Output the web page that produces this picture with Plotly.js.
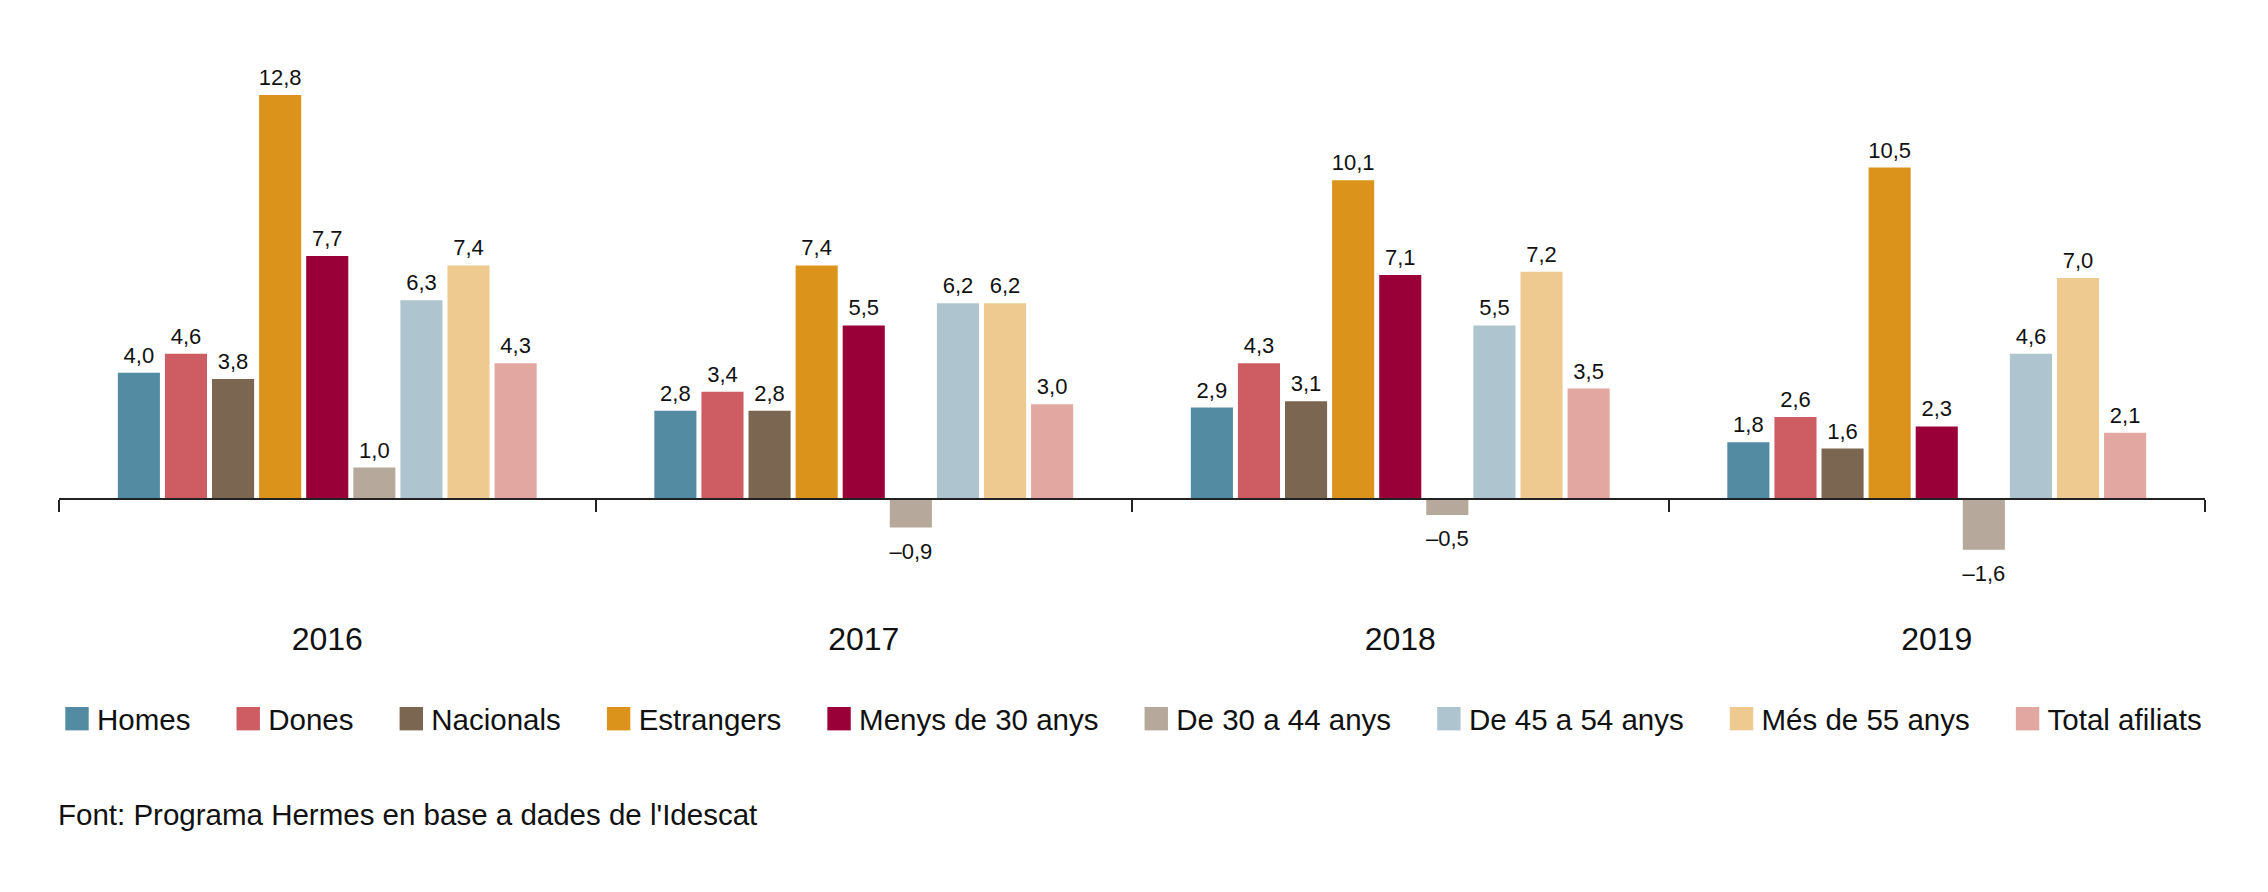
<!DOCTYPE html>
<html>
<head>
<meta charset="utf-8">
<script src="https://cdn.plot.ly/plotly-3.0.1.min.js"></script>
<style>
  html, body { margin: 0; padding: 0; background: #fff; }
  #chart { width: 2268px; height: 892px; }
</style>
</head>
<body>
<div id="chart"></div>
<script>
const years = ['2016', '2017', '2018', '2019'];

const homes = [4.0, 2.8, 2.9, 1.8];
const dones = [4.6, 3.4, 4.3, 2.6];
const nacionals = [3.8, 2.8, 3.1, 1.6];
const estrangers = [12.8, 7.4, 10.1, 10.5];
const menys30 = [7.7, 5.5, 7.1, 2.3];
const de30a44 = [1.0, -0.9, -0.5, -1.6];
const de45a54 = [6.3, 6.2, 5.5, 4.6];
const mes55 = [7.4, 6.2, 7.2, 7.0];
const totalAfiliats = [4.3, 3.0, 3.5, 2.1];

const seriesNames = ['Homes', 'Dones', 'Nacionals', 'Estrangers', 'Menys de 30 anys',
  'De 30 a 44 anys', 'De 45 a 54 anys', 'Més de 55 anys', 'Total afiliats'];
const seriesValues = [homes, dones, nacionals, estrangers, menys30,
  de30a44, de45a54, mes55, totalAfiliats];
const colors = ['#538ba2', '#ce5d63', '#7b6651', '#db931c', '#9a0037',
  '#b6a99c', '#aec4ce', '#efca90', '#e2a7a0'];

const FONT = '"Liberation Sans", Arial, Helvetica, sans-serif';
const W = 2268, H = 892;
const yMin = -5, yMax = 14;
const zeroY = 499;          // px of the baseline
const pxPerUnit = 31.55;
const plotTop = zeroY - yMax * pxPerUnit;
const plotBottom = zeroY - yMin * pxPerUnit;
const plotH = plotBottom - plotTop;

function fmt(v) {
  return v.toFixed(1).replace('.', ',').replace('-', '–');
}

// a bit of room after each legend entry, like the original
const legendPad = '\u00a0\u00a0\u00a0\u00a0';

const traces = [];
seriesNames.forEach((name, i) => {
  traces.push({
    type: 'bar',
    name: i < seriesNames.length - 1 ? name + legendPad : name,
    x: years,
    y: seriesValues[i],
    marker: { color: colors[i], line: { width: 0 } },
    offsetgroup: String(i),
    hoverinfo: 'skip'
  });
});
// value labels, grouped the same way as the bars
seriesNames.forEach((name, i) => {
  const vals = seriesValues[i];
  traces.push({
    type: 'scatter',
    mode: 'markers+text',
    x: years,
    y: vals,
    text: vals.map(fmt),
    textposition: vals.map(v => v < 0 ? 'bottom center' : 'top center'),
    textfont: { family: FONT, size: 22, color: '#111' },
    marker: { size: vals.map(v => v < 0 ? 22 : 5.6), opacity: 0 },
    offsetgroup: String(i),
    showlegend: false,
    cliponaxis: false,
    hoverinfo: 'skip'
  });
});

const layout = {
  width: W,
  height: H,
  margin: { l: 59, r: W - 2205, t: plotTop, b: H - plotBottom, pad: 0 },
  paper_bgcolor: '#fff',
  plot_bgcolor: '#fff',
  font: { family: FONT, color: '#111' },
  barmode: 'group',
  bargap: 0.21,
  bargroupgap: 0.106,
  scattermode: 'group',
  scattergap: 0.21,
  showlegend: true,
  legend: {
    orientation: 'h',
    x: 0.5,
    xanchor: 'center',
    yref: 'container',
    y: 1 - 719 / H,
    yanchor: 'middle',
    font: { family: FONT, size: 29.5, color: '#111' },
    itemwidth: 30,
    traceorder: 'normal'
  },
  xaxis: {
    type: 'category',
    anchor: 'free',
    position: -yMin / (yMax - yMin),
    showline: true,
    linecolor: '#222',
    linewidth: 2,
    ticks: 'outside',
    tickson: 'boundaries',
    ticklen: 12,
    tickwidth: 2,
    tickcolor: '#222',
    tickfont: { family: FONT, size: 32, color: '#111' },
    ticklabelstandoff: 111,
    showgrid: false,
    zeroline: false,
    automargin: false,
    fixedrange: true
  },
  yaxis: {
    range: [yMin, yMax],
    visible: false,
    showgrid: false,
    zeroline: false,
    fixedrange: true
  },
  annotations: [{
    text: "Font: Programa Hermes en base a dades de l'Idescat",
    xref: 'paper',
    yref: 'paper',
    x: 0,
    xanchor: 'left',
    xshift: -3,
    y: (plotBottom - 814) / plotH,
    yanchor: 'middle',
    showarrow: false,
    font: { family: FONT, size: 29.5, color: '#111' }
  }]
};

function bigLegendSquares() {
  document.querySelectorAll('#chart .legendpoints path').forEach(p => {
    const t = p.getAttribute('transform') || '';
    if (!t.includes('scale')) p.setAttribute('transform', t + ' scale(1.95)');
  });
}

const chart = document.getElementById('chart');
Plotly.newPlot(chart, traces, layout, { displayModeBar: false, staticPlot: true })
  .then(() => {
    bigLegendSquares();
    chart.on('plotly_afterplot', bigLegendSquares);
  });
</script>
</body>
</html>
